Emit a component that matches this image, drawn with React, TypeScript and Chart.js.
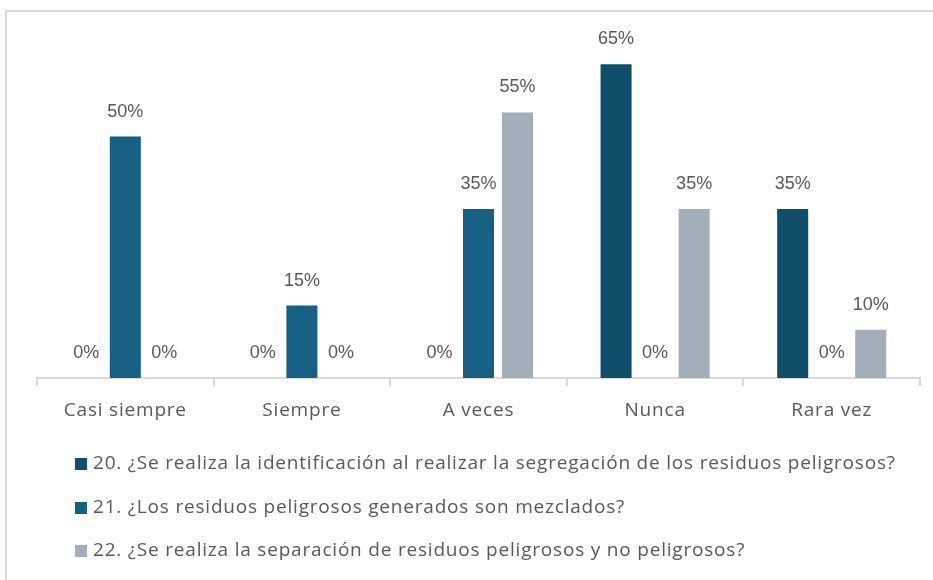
import React, { useEffect, useRef } from "react";
import { Chart, registerables } from "chart.js";

Chart.register(...registerables);

const categories = ["Casi siempre", "Siempre", "A veces", "Nunca", "Rara vez"];
const seriesNames = [
  "20. ¿Se realiza la identificación al realizar la segregación de los residuos peligrosos?",
  "21. ¿Los residuos peligrosos generados son mezclados?",
  "22. ¿Se realiza la separación de residuos peligrosos y no peligrosos?",
];
const series20 = [0, 0, 0, 65, 35];
const series21 = [50, 15, 35, 0, 0];
const series22 = [0, 0, 55, 35, 10];
const colors = ["#114e6a", "#186083", "#a2afba"];

const TEXT = "#595959";
const UI_FONT = "'Open Sans', 'Noto Sans', sans-serif";
const LABEL_FONT = "'Liberation Sans', Arial, sans-serif";
const SPACING = "0.8px";

const decorPlugin = {
  id: "decor",
  beforeDraw(chart: any) {
    (chart.ctx as any).letterSpacing = SPACING;
  },
  afterDatasetsDraw(chart: any) {
    const ctx = chart.ctx;
    ctx.save();
    (ctx as any).letterSpacing = "0px";
    ctx.font = `18px ${LABEL_FONT}`;
    ctx.fillStyle = TEXT;
    ctx.textAlign = "center";
    ctx.textBaseline = "middle";
    chart.data.datasets.forEach((ds: any, i: number) => {
      const meta = chart.getDatasetMeta(i);
      meta.data.forEach((el: any, j: number) => {
        ctx.fillText(ds.data[j] + "%", el.x, el.y - 25);
      });
    });
    ctx.restore();
  },
  afterDraw(chart: any) {
    const ctx = chart.ctx;
    ctx.save();
    ctx.strokeStyle = "#d9d9d9";
    ctx.lineWidth = 2;
    ctx.beginPath();
    ctx.moveTo(chart.width, 11);
    ctx.lineTo(6, 11);
    ctx.lineTo(6, chart.height);
    ctx.stroke();
    (ctx as any).letterSpacing = SPACING;
    ctx.font = `19px ${UI_FONT}`;
    ctx.textAlign = "left";
    ctx.textBaseline = "middle";
    const ys = [464, 508, 551];
    chart.data.datasets.forEach((ds: any, i: number) => {
      ctx.fillStyle = ds.backgroundColor;
      ctx.fillRect(75, ys[i] - 6, 12, 12);
      ctx.fillStyle = TEXT;
      ctx.fillText(ds.label, 93, ys[i]);
    });
    ctx.restore();
  },
};

export default function App() {
  const ref = useRef<HTMLCanvasElement | null>(null);
  useEffect(() => {
    document.body.style.margin = "0";
    const chart = new Chart(ref.current as HTMLCanvasElement, {
      type: "bar",
      data: {
        labels: categories,
        datasets: [series20, series21, series22].map((d, i) => ({
          label: seriesNames[i],
          data: d,
          backgroundColor: colors[i],
          categoryPercentage: 0.663,
          barPercentage: 0.795,
        })),
      },
      options: {
        animation: false,
        responsive: false,
        layout: { padding: { left: 37, right: 13, top: 40, bottom: 0 } },
        plugins: { legend: { display: false }, tooltip: { enabled: false } },
        scales: {
          y: { display: false, min: 0, max: 70 },
          x: {
            afterFit: (s: any) => {
              s.height = 202;
            },
            grid: {
              drawOnChartArea: false,
              drawTicks: true,
              tickLength: 8,
              color: "#d9d9d9",
              lineWidth: 2,
              offset: true,
            },
            border: { display: true, color: "#d9d9d9", width: 2 },
            ticks: { color: TEXT, font: { size: 19, family: UI_FONT }, padding: 13 },
          },
        },
      },
      plugins: [decorPlugin],
    });
    return () => chart.destroy();
  }, []);
  return <canvas ref={ref} width={933} height={580} style={{ display: "block" }} />;
}
